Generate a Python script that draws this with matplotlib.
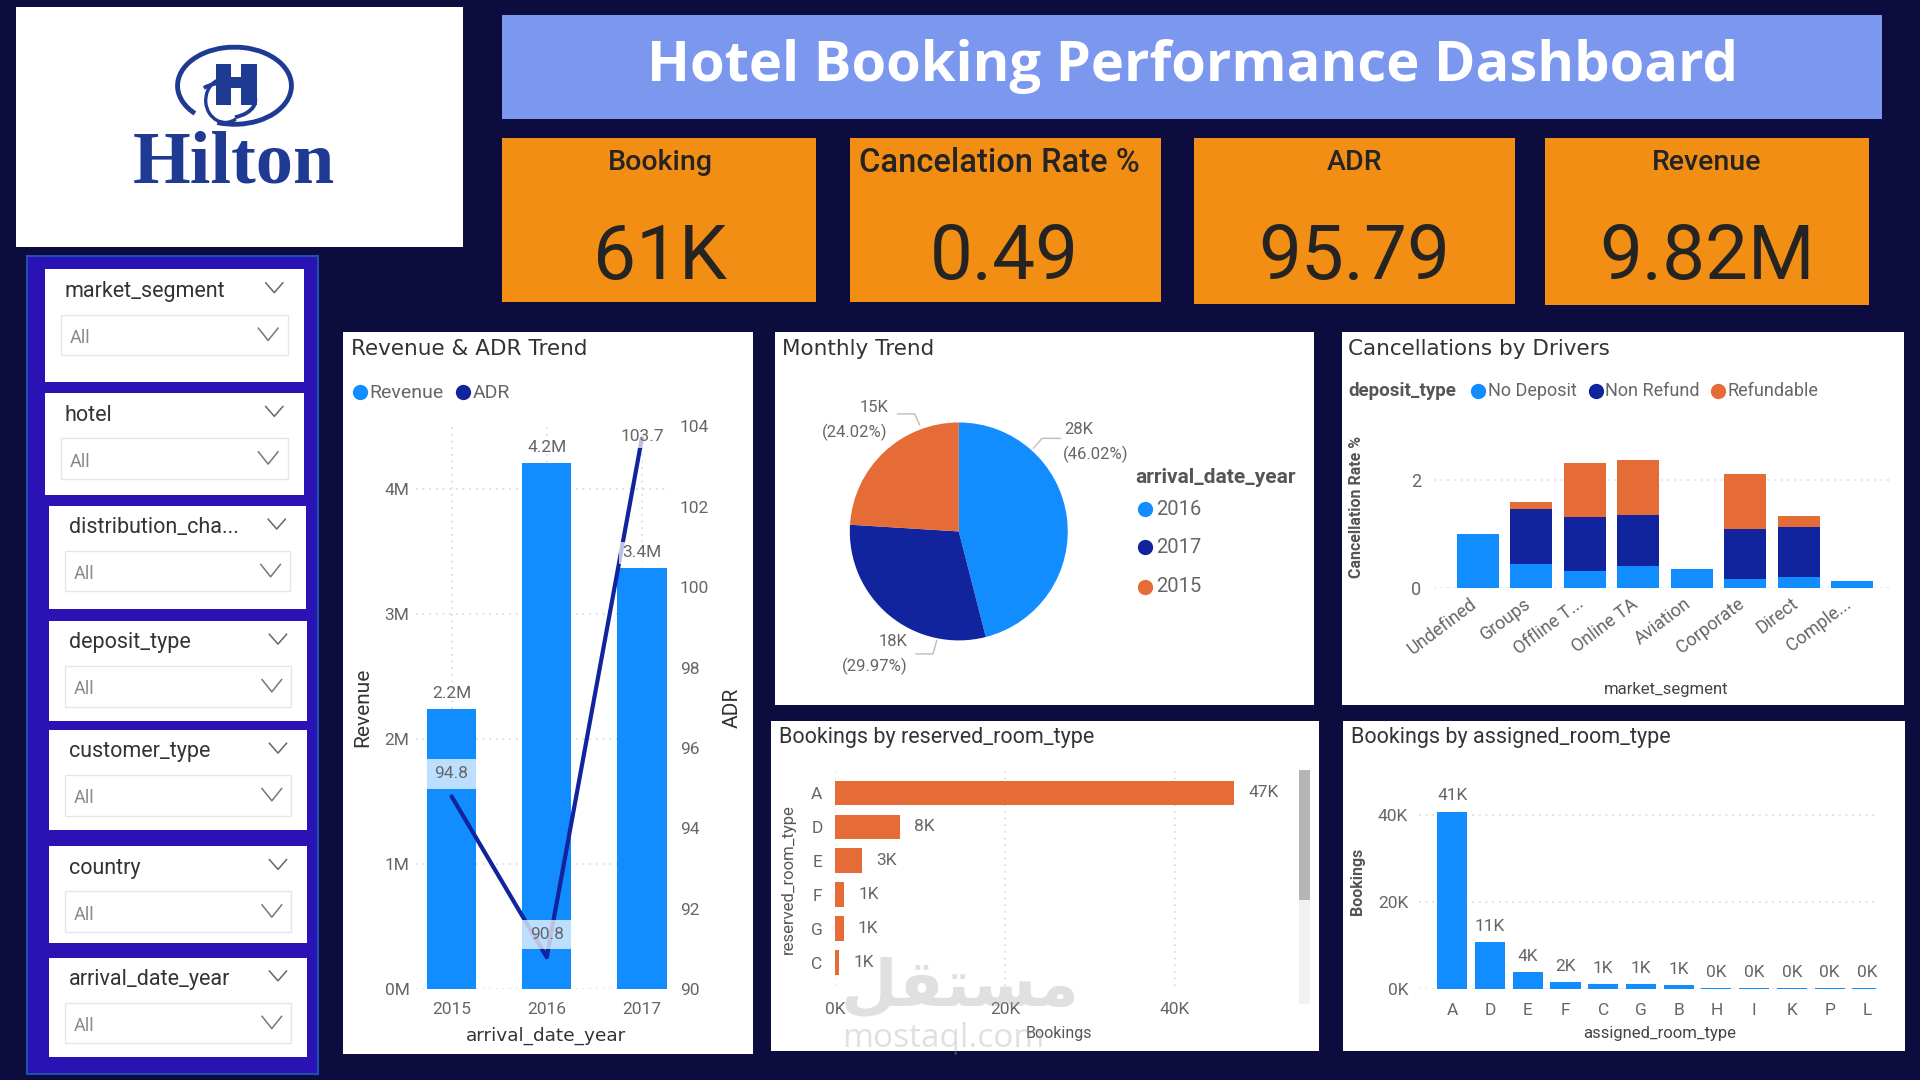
import numpy as np
import matplotlib
matplotlib.use('Agg')
import matplotlib.pyplot as plt
from matplotlib.patches import Rectangle, Arc
from matplotlib.ticker import FuncFormatter
from matplotlib.transforms import ScaledTranslation

NAVY = '#0c0c3e'
BLUE = '#118DFF'
DARK = '#12239E'
ORANGE = '#E66C37'
KPI = '#F28E13'
GRAY = '#666666'
TXT = '#333333'

# data
years = ['2015', '2016', '2017']
revenue = [2.24, 4.205, 3.365]
revenue_labels = ['2.2M', '4.2M', '3.4M']
adr = [94.8, 90.8, 103.7]

pie_years = ['2016', '2017', '2015']
pie_values = [46.02, 29.97, 24.02]

segments = ['Undefined', 'Groups', 'Offline T...', 'Online TA', 'Aviation', 'Corporate', 'Direct', 'Comple...']
no_deposit = [1.0, 0.45, 0.31, 0.41, 0.34, 0.165, 0.2, 0.12]
non_refund = [0, 1.005, 1.0, 0.95, 0, 0.925, 0.93, 0]
refundable = [0, 0.135, 1.01, 1.01, 0, 1.02, 0.2, 0]

reserved_types = ['A', 'D', 'E', 'F', 'G', 'C']
reserved_values = [47, 7.6, 3.2, 1.1, 1.0, 0.5]
reserved_labels = ['47K', '8K', '3K', '1K', '1K', '1K']

assigned_types = ['A', 'D', 'E', 'F', 'C', 'G', 'B', 'H', 'I', 'K', 'P', 'L']
assigned_values = [40.9, 10.9, 4.0, 1.7, 1.3, 1.3, 0.9, 0.35, 0.35, 0.35, 0.35, 0.35]
assigned_labels = ['41K', '11K', '4K', '2K', '1K', '1K', '1K', '0K', '0K', '0K', '0K', '0K']

kpi_names = ['Booking', 'Cancelation Rate %', 'ADR', 'Revenue']
kpi_values = ['61K', '0.49', '95.79', '9.82M']
slicer_names = ['market_segment', 'hotel', 'distribution_cha...', 'deposit_type', 'customer_type', 'country', 'arrival_date_year']

plt.rcParams['font.family'] = ['Roboto', 'DejaVu Sans']
W, H = 1568.0, 882.0
fig = plt.figure(figsize=(19.2, 10.8), dpi=100, facecolor=NAVY)

# everything for layout is placed in the coordinates of a 1568x882 page
bg = fig.add_axes([0, 0, 1, 1])
bg.set_xlim(0, W)
bg.set_ylim(H, 0)
bg.axis('off')


def box(x0, y0, x1, y1):
    a = fig.add_axes([x0 / W, 1 - y1 / H, (x1 - x0) / W, (y1 - y0) / H])
    a.patch.set_alpha(0)
    for s in a.spines.values():
        s.set_visible(False)
    a.tick_params(length=0, colors=GRAY)
    return a


def panel(x0, y0, x1, y1, color='white', **kw):
    bg.add_patch(Rectangle((x0, y0), x1 - x0, y1 - y0, facecolor=color, **kw))


def chevron(x, y, w, h, color):
    bg.plot([x - w, x, x + w], [y - h, y + h, y - h], color=color, lw=1.1)


def dot(x, y, color, size=11):
    bg.plot([x], [y], 'o', color=color, ms=size, mew=0)


def dotted(a, axis):
    a.grid(True, axis=axis, color='#d9d9d9', lw=1.2, linestyle=(0, (1, 3)))
    a.set_axisbelow(True)


# logo
panel(13, 6, 378, 202)
logo = '#1f3a93'
bg.add_patch(Arc((191.5, 70), 93, 63, angle=0, theta1=-215, theta2=115, color=logo, lw=3.5))
bg.add_patch(Arc((184, 82), 49, 29, angle=0, theta1=-150, theta2=60, color=logo, lw=2.8))
bg.add_patch(Arc((184, 82), 32, 36, angle=0, theta1=60, theta2=290, color=logo, lw=2.4))
for cx in (176, 197):
    panel(cx, 52, cx + 13, 86, color=logo)
panel(189, 63, 197, 72, color=logo)
bg.text(191, 134, 'Hilton', family='Liberation Serif', weight='bold', size=53.5, color=logo, ha='center', va='center')

# header
panel(410, 12, 1537, 97, color='#7b98ee')
bg.text(974, 54, 'Hotel Booking Performance Dashboard', family='Open Sans', weight='bold', size=40.4, color='white', ha='center', va='center')

# kpi cards
kpi_boxes = [(410, 113, 666, 247), (694, 113, 948, 247), (975, 113, 1237, 248), (1262, 113, 1526, 249)]
kpi_name_x = [539, 816, 1106, 1394]
kpi_value_x = [539, 820, 1106, 1394]
kpi_sizes = [20.5, 23.5, 20.5, 20.5]
for b, name, val, nx, vx, fs in zip(kpi_boxes, kpi_names, kpi_values, kpi_name_x, kpi_value_x, kpi_sizes):
    panel(b[0], b[1], b[2], b[3], color=KPI)
    bg.text(nx, 133, name, size=fs, weight='medium', color='#252423', ha='center', va='center')
    bg.text(vx, 211, val, size=55, color='#252423', ha='center', va='center')

# slicers
panel(22, 209, 260, 877, color='#2a12b5', edgecolor='#1f4fb0', lw=1.5)
slicer_tops = [(37, 220, 248, 312), (37, 321, 248, 404), (40, 413, 250, 497), (40, 507, 251, 589),
               (40, 596, 251, 678), (40, 691, 251, 770), (40, 782, 251, 863)]
for (x0, y0, x1, y1), name in zip(slicer_tops, slicer_names):
    panel(x0, y0, x1, y1)
    bg.text(x0 + 16, y0 + 18, name, size=15.5, color='#333333', ha='left', va='center')
    chevron(x1 - 24, y0 + 15, 7, 4, '#666666')
    panel(x0 + 13, y0 + 37, x1 - 13, y0 + 70, color='white', edgecolor='#e6e6e6', lw=1)
    bg.text(x0 + 20, y0 + 56, 'All', size=13, color='#8a8a8a', ha='left', va='center')
    chevron(x1 - 29, y0 + 53, 8, 5, '#777777')

# chart panels
panel(280, 271, 615, 861)
panel(633, 271, 1073, 576)
panel(1096, 271, 1555, 576)
panel(630, 589, 1077, 858)
panel(1097, 589, 1556, 858)

# the top row of the reference is stretched wider than the bottom row
top_titles = [(287, 285, 'Revenue & ADR Trend'), (639, 285, 'Monthly Trend'), (1101, 285, 'Cancellations by Drivers')]
low_titles = [(636, 602, 'Bookings by reserved_room_type'), (1103, 602, 'Bookings by assigned_room_type')]
for x, y, t in top_titles:
    bg.text(x, y, t, size=15.5, family='DejaVu Sans', color='#333333', ha='left', va='center')
for x, y, t in low_titles:
    bg.text(x, y, t, size=15.5, color='#333333', ha='left', va='center')

# revenue and adr
ax = box(340, 348, 546, 808)
x = np.arange(len(years))
ax.bar(x, revenue, width=0.52, color=BLUE, zorder=2)
ax.set_xlim(-0.37, 2.28)
ax.set_ylim(0, 4.5)
ax.set_xticks(x, years)
ax.set_yticks([0, 1, 2, 3, 4])
ax.yaxis.set_major_formatter(FuncFormatter(lambda v, p: '%dM' % v))
ax.tick_params(labelsize=12.5)
ax.tick_params(axis='x', pad=9)
ax.tick_params(axis='y', pad=5)
dotted(ax, 'both')
ax2 = ax.twinx()
ax2.patch.set_alpha(0)
for s in ax2.spines.values():
    s.set_visible(False)
ax2.plot(x, adr, color=DARK, lw=3, solid_capstyle='round', zorder=3)
ax2.set_ylim(90, 104)
ax2.set_yticks(np.arange(90, 105, 2))
ax2.tick_params(length=0, colors=GRAY, labelsize=12.5, pad=8)
band = dict(boxstyle='square,pad=0.42', fc='white', ec='none', alpha=0.72)
thin = dict(boxstyle='square,pad=0.2', fc='white', ec='none', alpha=0.72)
for i in [0, 1]:
    ax.annotate(revenue_labels[i], (x[i], revenue[i]), xytext=(0, 8), textcoords='offset points', ha='center', size=12.5, color=GRAY)
# 3.4M and 103.7 lie over the line, with the same pale label box as the others
ax2.annotate(revenue_labels[2], (x[2], revenue[2]), xycoords=ax.transData, xytext=(0, 8), textcoords='offset points', ha='center', size=12.5, color=GRAY, bbox=thin, zorder=4)
ax2.annotate('103.7', (2, adr[2]), xytext=(0, 1), textcoords='offset points', ha='center', va='center', size=12.5, color=GRAY, bbox=thin, zorder=4)
ax2.annotate('94.8', (0, adr[0]), xytext=(0, 13), textcoords='offset points', ha='center', size=12.5, color=GRAY, bbox=band, zorder=4)
ax2.annotate('90.8', (1, adr[1]), xytext=(0, 13), textcoords='offset points', ha='center', size=12.5, color=GRAY, bbox=band, zorder=4)
bg.text(296, 578, 'Revenue', size=15, color=TXT, rotation=90, ha='center', va='center')
bg.text(598, 578, 'ADR', size=15, color=TXT, rotation=90, ha='center', va='center')
bg.text(446, 846, 'arrival_date_year', size=13.3, family='DejaVu Sans', color=TXT, ha='center', va='center')
dot(294, 320, BLUE)
bg.text(302, 321, 'Revenue', size=14, color=GRAY, va='center')
dot(378, 320, DARK)
bg.text(386, 321, 'ADR', size=14, color=GRAY, va='center')

# pie
ax = box(694, 345, 872, 523)
ax.pie(pie_values, colors=[BLUE, DARK, ORANGE], startangle=90, counterclock=False, radius=1)
ax.set_xlim(-1, 1)
ax.set_ylim(-1, 1)
bg.plot([844, 851, 866], [366, 358, 358], color='#bdbdbd', lw=1)
bg.plot([751, 747, 733], [347, 338, 338], color='#bdbdbd', lw=1)
bg.plot([765, 762, 748], [523, 534, 534], color='#bdbdbd', lw=1)
bg.text(869, 351, '28K', size=12, color=GRAY, va='center')
bg.text(868, 371, '(46.02%)', size=12, color=GRAY, va='center')
bg.text(726, 333, '15K', size=12, color=GRAY, va='center', ha='right')
bg.text(725, 353, '(24.02%)', size=12, color=GRAY, va='center', ha='right')
bg.text(741, 524, '18K', size=12, color=GRAY, va='center', ha='right')
bg.text(741, 544, '(29.97%)', size=12, color=GRAY, va='center', ha='right')
bg.text(927, 390, 'arrival_date_year', size=15, weight='bold', color='#555555', va='center')
for yy, c, name in zip([416, 447, 479], [BLUE, DARK, ORANGE], pie_years):
    dot(935, yy, c)
    bg.text(944, yy, name, size=14.5, color=GRAY, va='center')

# cancellations
ax = box(1171, 345, 1545, 480)
x = np.arange(len(segments))
b1 = np.array(no_deposit)
b2 = b1 + np.array(non_refund)
ax.bar(x, no_deposit, width=0.79, color=BLUE, zorder=2)
ax.bar(x, non_refund, width=0.79, bottom=b1, color=DARK, zorder=2)
ax.bar(x, refundable, width=0.79, bottom=b2, color=ORANGE, zorder=2)
ax.set_xlim(-0.82, 7.74)
ax.set_ylim(0, 3.07)
ax.set_yticks([0, 2])
ax.set_xticks(x, segments, rotation=37, ha='right', rotation_mode='anchor')
ax.tick_params(labelsize=13)
ax.tick_params(axis='x', pad=5)
ax.tick_params(axis='y', pad=9)
shift = ScaledTranslation(-8 / 100, 0, fig.dpi_scale_trans)
for lab in ax.get_xticklabels():
    lab.set_transform(lab.get_transform() + shift)
dotted(ax, 'y')
bg.text(1108, 414, 'Cancellation Rate %', size=11.5, weight='bold', color='#555555', rotation=90, ha='center', va='center')
bg.text(1361, 563, 'market_segment', size=12, color='#444444', ha='center', va='center')
bg.text(1101, 319, 'deposit_type', size=13.5, weight='bold', color='#555555', va='center')
for xx, c, name in zip([1207, 1303, 1403], [BLUE, DARK, ORANGE], ['No Deposit', 'Non Refund', 'Refundable']):
    dot(xx, 319, c)
    bg.text(xx + 8, 319, name, size=13, color=GRAY, va='center')

# reserved room type
ax = box(682, 628, 1058, 805)
y = np.arange(len(reserved_types))
ax.barh(y, reserved_values, height=0.72, color=ORANGE, zorder=2)
ax.set_xlim(0, 54.2)
ax.set_ylim(5.68, -0.7)
ax.set_yticks(y, reserved_types)
ax.set_xticks([0, 20, 40])
ax.xaxis.set_major_formatter(FuncFormatter(lambda v, p: '%dK' % v))
ax.tick_params(labelsize=12.5)
ax.tick_params(axis='x', pad=12)
ax.tick_params(axis='y', pad=9)
dotted(ax, 'x')
for i, v in enumerate(reserved_values):
    ax.annotate(reserved_labels[i], (v, i), xytext=(10, 0), textcoords='offset points', va='center', size=12.5, color=GRAY)
bg.text(644, 718, 'reserved_room_type', size=12, color='#555555', rotation=90, ha='center', va='center')
bg.text(865, 844, 'Bookings', size=11.5, color='#555555', ha='center', va='center')
panel(1061, 629, 1070, 820, color='#f1f1f1')
panel(1061, 629, 1070, 735, color='#b5b5b5')

# assigned room type
ax = box(1159, 640, 1532, 808)
x = np.arange(len(assigned_types))
ax.bar(x, assigned_values, width=0.8, color=BLUE, zorder=2)
ax.set_xlim(-0.876, 11.227)
ax.set_ylim(0, 47.3)
ax.set_xticks(x, assigned_types)
ax.set_yticks([0, 20, 40])
ax.yaxis.set_major_formatter(FuncFormatter(lambda v, p: '%dK' % v))
ax.tick_params(labelsize=12.5)
ax.tick_params(axis='x', pad=10)
ax.tick_params(axis='y', pad=8)
dotted(ax, 'y')
for i, v in enumerate(assigned_values):
    ax.annotate(assigned_labels[i], (i, v), xytext=(0, 8), textcoords='offset points', ha='center', size=12.5, color=GRAY)
bg.text(1109, 720, 'Bookings', size=11.5, weight='bold', color='#555555', rotation=90, ha='center', va='center')
bg.text(1355, 844, 'assigned_room_type', size=12, color='#444444', ha='center', va='center')

# watermark on top of the page
top = fig.add_axes([0, 0, 1, 1], zorder=10)
top.set_xlim(0, W)
top.set_ylim(H, 0)
top.axis('off')
top.text(784, 806, '\ufede\ufed8\ufe98\ufeb4\ufee3', family='DejaVu Sans', weight='bold', size=47, color='#9a9a9a', alpha=0.3, ha='center', va='center')
top.text(770, 848, 'mostaql.com', family='Open Sans', size=24, color='#9a9a9a', alpha=0.3, ha='center', va='center')

fig.savefig('out.png', dpi=100, facecolor=NAVY)
